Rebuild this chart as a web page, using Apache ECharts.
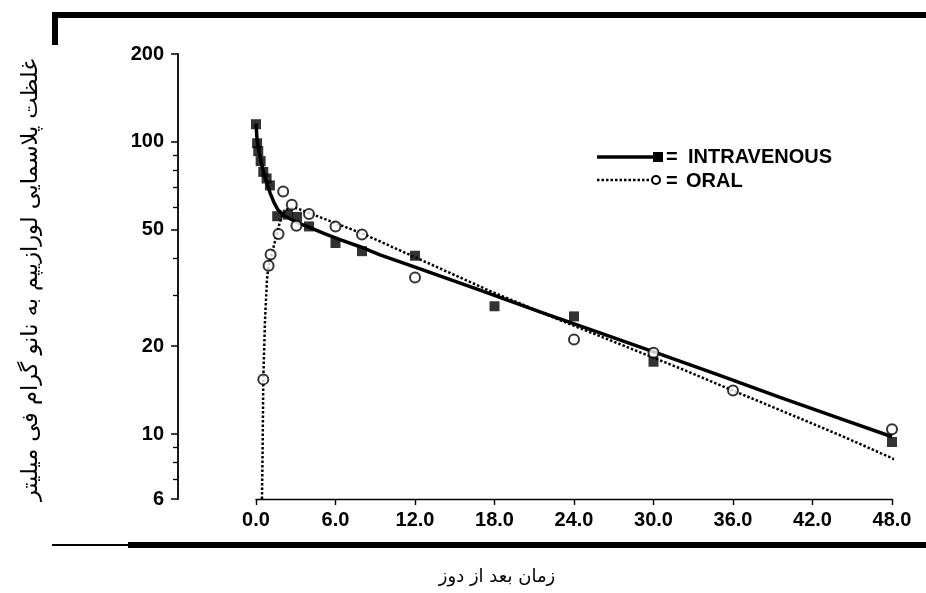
<!DOCTYPE html>
<html>
<head>
<meta charset="utf-8">
<script src="https://cdn.jsdelivr.net/npm/echarts@6/dist/echarts.min.js"></script>
<style>
  html, body { margin: 0; padding: 0; background: #fff; }
  #chart { width: 926px; height: 593px; }
</style>
</head>
<body>
<div id="chart"></div>
<script>
// Lorazepam plasma concentration (ng/ml) vs hours after dose, semi-log plot
const hourTicks = [0, 6, 12, 18, 24, 30, 36, 42, 48];
const concTicks = [6, 10, 20, 50, 100, 200];
const concMinorTicks = [7, 8, 9, 30, 40, 60, 70, 80, 90];

// observed samples — intravenous
const ivTimes = [0, 0.083, 0.17, 0.35, 0.55, 0.8, 1.05, 1.6, 2.4, 3.1, 4, 6, 8, 12, 18, 24, 30, 48];
const ivConc  = [115, 99, 93, 86, 79, 75, 71, 55.7, 56.4, 55.4, 51.4, 45.1, 42.3, 40.8, 27.4, 25.3, 17.7, 9.4];

// observed samples — oral
const oralTimes = [0.55, 0.95, 1.1, 1.7, 2.05, 2.7, 3.05, 4, 6, 8, 12, 24, 30, 36, 48];
const oralConc  = [15.4, 37.7, 41.2, 48.4, 67.7, 61.0, 51.7, 56.7, 51.4, 48.2, 34.4, 21.1, 19.0, 14.1, 10.4];

// fitted curves
const ivFitTimes = [0, 0.08, 0.23, 0.38, 0.6, 0.83, 1.06, 1.36, 1.66, 2.04, 2.57, 3.32, 4.08, 5.21, 6.34, 7.85, 9.36, 12.38, 16.9, 21.43, 25.96, 30.5, 35.0, 39.5, 44.1, 48];
const ivFitConc  = [115.5, 101.8, 92.7, 85.6, 77.9, 72.0, 67.0, 62.0, 58.6, 56.4, 54.6, 52.5, 50.9, 48.5, 46.3, 43.8, 41.1, 36.8, 31.1, 26.2, 22.2, 18.8, 15.9, 13.4, 11.3, 9.8];

const oralFitTimes = [0.45, 0.5, 0.55, 0.68, 0.83, 0.93, 1.18, 1.56, 1.89, 2.26, 2.94, 4.08, 6.11, 8.08, 13.1, 17.6, 22.9, 27.5, 32.0, 36.5, 41.1, 44.8, 48.2];
const oralFitConc  = [6.0, 8.85, 15.4, 24.6, 33.8, 37.4, 41.1, 48.2, 55.1, 58.6, 59.6, 57.0, 52.5, 48.5, 38.3, 31.0, 24.6, 20.3, 16.8, 13.8, 11.3, 9.6, 8.2];

const lg = Math.log10;
const toPairs = (ts, cs) => ts.map((t, i) => [t, lg(cs[i])]);

const latin = '"Liberation Sans", Arial, Helvetica, sans-serif';
const persian = '"DejaVu Sans", sans-serif';

const chart = echarts.init(document.getElementById('chart'), null, { renderer: 'canvas' });

chart.setOption({
  animation: false,
  backgroundColor: '#fff',
  grid: { left: 256, right: 34, top: 54, bottom: 94, containLabel: false },
  xAxis: {
    type: 'value',
    min: 0,
    max: 48,
    interval: 6,
    axisLine: { show: true, onZero: false, lineStyle: { color: '#000', width: 1.4 } },
    axisTick: { show: true, inside: false, length: 6, lineStyle: { color: '#000', width: 1.4 } },
    axisLabel: {
      color: '#000', fontFamily: latin, fontSize: 20, fontWeight: 'bold', margin: 11,
      customValues: hourTicks,
      formatter: v => v.toFixed(1)
    },
    splitLine: { show: false }
  },
  yAxis: [
    {
      type: 'value',
      min: lg(6),
      max: lg(200),
      offset: 78,
      axisLine: { show: true, onZero: false, lineStyle: { color: '#000', width: 1.8 } },
      axisTick: { show: true, inside: false, length: 7, customValues: concTicks.map(lg), lineStyle: { color: '#000', width: 1.5 } },
      axisLabel: {
        color: '#000', fontFamily: latin, fontSize: 20, fontWeight: 'bold', margin: 14,
        customValues: concTicks.map(lg),
        formatter: v => String(Math.round(Math.pow(10, v)))
      },
      splitLine: { show: false }
    },
    {
      type: 'value',
      min: lg(6),
      max: lg(200),
      offset: 78,
      position: 'left',
      axisLine: { show: false, onZero: false },
      axisTick: { show: true, inside: false, length: 5, customValues: concMinorTicks.map(lg), lineStyle: { color: '#000', width: 1.3 } },
      axisLabel: { show: false },
      splitLine: { show: false }
    }
  ],
  series: [
    {
      name: 'INTRAVENOUS fit',
      type: 'line',
      data: toPairs(ivFitTimes, ivFitConc),
      showSymbol: false,
      smooth: false,
      lineStyle: { color: '#000', width: 3.5, join: 'round' },
      z: 2
    },
    {
      name: 'ORAL fit',
      type: 'line',
      data: toPairs(oralFitTimes, oralFitConc),
      showSymbol: false,
      smooth: false,
      clip: false,
      lineStyle: { color: '#000', width: 2.5, type: [2.5, 2] },
      z: 2
    },
    {
      name: 'INTRAVENOUS',
      type: 'scatter',
      data: toPairs(ivTimes, ivConc),
      symbol: 'rect',
      symbolSize: 10,
      itemStyle: { color: '#000' },
      z: 3
    },
    {
      name: 'ORAL',
      type: 'scatter',
      data: toPairs(oralTimes, oralConc),
      symbol: 'circle',
      symbolSize: 10,
      itemStyle: { color: '#fff', borderColor: '#000', borderWidth: 2 },
      z: 4
    }
  ],
  graphic: [
    // heavy frame rules
    { type: 'rect', shape: { x: 52, y: 12, width: 874, height: 6 }, style: { fill: '#000' } },
    { type: 'rect', shape: { x: 52, y: 12, width: 6, height: 33 }, style: { fill: '#000' } },
    { type: 'rect', shape: { x: 128, y: 542, width: 798, height: 6 }, style: { fill: '#000' } },
    { type: 'rect', shape: { x: 52, y: 544, width: 76, height: 2 }, style: { fill: '#000' } },
    // legend
    { type: 'line', shape: { x1: 597, y1: 157, x2: 654, y2: 157 }, style: { stroke: '#000', lineWidth: 3.5 } },
    { type: 'rect', shape: { x: 653, y: 152, width: 10, height: 10 }, style: { fill: '#000' } },
    { type: 'text', x: 666, y: 157, style: { text: '=', font: 'bold 20px ' + latin, fill: '#000', textVerticalAlign: 'middle' } },
    { type: 'text', x: 688, y: 157, style: { text: 'INTRAVENOUS', font: 'bold 20px ' + latin, fill: '#000', textVerticalAlign: 'middle' } },
    { type: 'line', shape: { x1: 597, y1: 180, x2: 651, y2: 180 }, style: { stroke: '#000', lineWidth: 2.5, lineDash: [2.5, 2] } },
    { type: 'circle', shape: { cx: 656, cy: 180, r: 4 }, style: { fill: '#fff', stroke: '#000', lineWidth: 2 } },
    { type: 'text', x: 666, y: 181, style: { text: '=', font: 'bold 20px ' + latin, fill: '#000', textVerticalAlign: 'middle' } },
    { type: 'text', x: 686, y: 181, style: { text: 'ORAL', font: 'bold 20px ' + latin, fill: '#000', textVerticalAlign: 'middle' } },
    // axis titles
    { type: 'text', x: 497, y: 577, style: { text: 'زمان بعد از دوز', font: '18px ' + persian, fill: '#000', textAlign: 'center', textVerticalAlign: 'middle' } },
    { type: 'text', x: 31, y: 280, rotation: Math.PI / 2, style: { text: 'غلظت پلاسمایی لورازیپم به نانو گرام فی میلیتر', font: '22.5px ' + persian, fill: '#000', textAlign: 'center', textVerticalAlign: 'middle' } }
  ]
});
</script>
</body>
</html>
